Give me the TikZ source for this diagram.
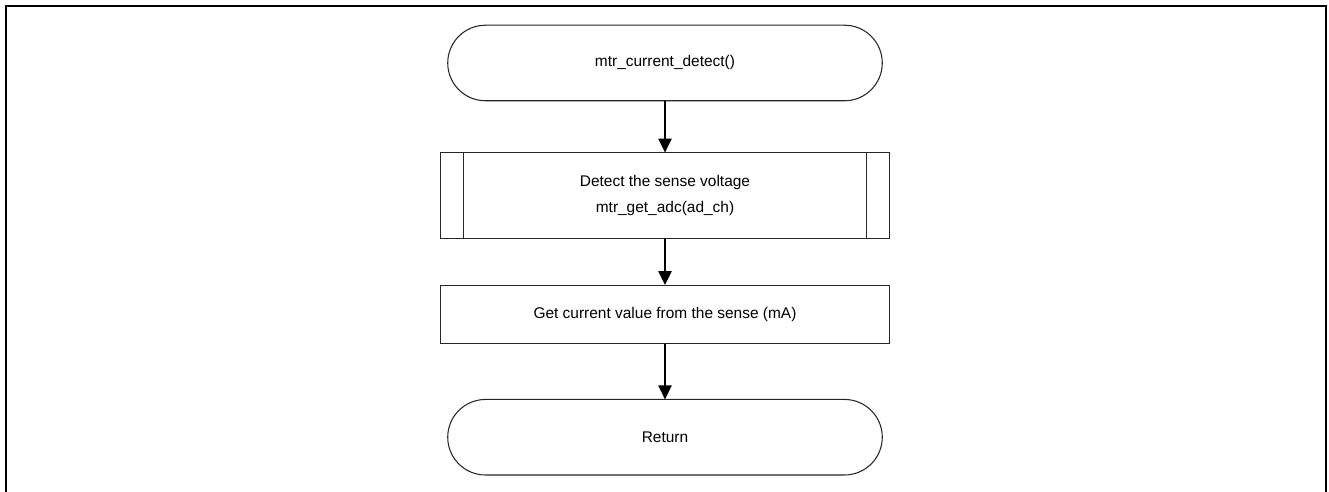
\documentclass[tikz,border=0pt]{standalone}
\usepackage{fontspec}
\setmainfont{Liberation Sans}
\usetikzlibrary{positioning,shapes.misc,arrows.meta}
\tikzset{
  terminal/.style={rounded rectangle,draw=black!85,line width=0.6pt,minimum width=254pt,minimum height=43pt,outer sep=0pt},
  procbox/.style={rectangle,draw=black!85,line width=0.6pt,minimum width=255.5pt,outer sep=0pt,align=center},
  flow/.style={line width=1.1pt,-{Triangle[length=8pt,width=7.5pt]}}
}
\begin{document}
\begin{tikzpicture}[x=0.02cm,y=-0.02cm,font=\fontsize{8.8}{15}\selectfont]
  \useasboundingbox (0,0) rectangle (1329,492);
  \draw[line width=1.2pt] (6,492) -- (6,6) -- (1326,6) -- (1326,492);
  \node[terminal] (start) at (665,63) {mtr\_current\_detect()};
  \node[procbox,minimum height=48.8pt,below=29.5pt of start] (adc) {Detect the sense voltage\\mtr\_get\_adc(ad\_ch)};
  \draw[black!85,line width=0.6pt] ([xshift=13pt]adc.north west) -- ([xshift=13pt]adc.south west);
  \draw[black!85,line width=0.6pt] ([xshift=-13pt]adc.north east) -- ([xshift=-13pt]adc.south east);
  \node[procbox,minimum height=33.4pt,below=26.6pt of adc] (calc) {Get current value from the sense (mA)};
  \node[terminal,below=31.7pt of calc] (ret) {Return};
  \draw[flow] (start) -- (adc);
  \draw[flow] (adc) -- (calc);
  \draw[flow] (calc) -- (ret);
\end{tikzpicture}
\end{document}
